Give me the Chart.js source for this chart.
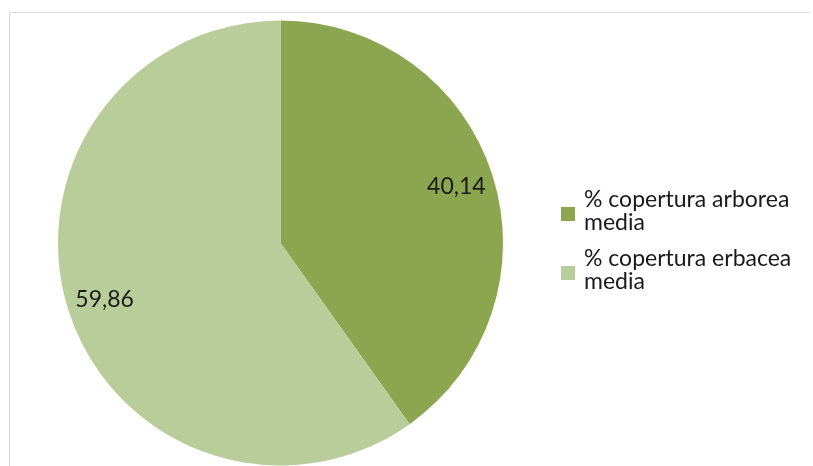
<!DOCTYPE html>
<html>
<head>
<meta charset="utf-8">
<script src="https://cdn.jsdelivr.net/npm/chart.js@4"></script>
<style>
  html, body { margin: 0; padding: 0; background: #fff; }
  #wrap { width: 813px; height: 466px; position: relative; }
</style>
</head>
<body>
<div id="wrap"><canvas id="pie" width="813" height="466"></canvas></div>
<script>
const labels = ['% copertura arborea media', '% copertura erbacea media'];
const legendLines = [['% copertura arborea', 'media'], ['% copertura erbacea', 'media']];
const values = [40.14, 59.86];
const colors = ['#8ca650', '#b9cd9a'];

const FONT = 'Lato, "Open Sans", sans-serif';

// thin frame along the top and left of the chart area
const framePlugin = {
  id: 'frame',
  beforeDraw(chart) {
    const ctx = chart.ctx;
    ctx.save();
    ctx.strokeStyle = '#d9d9d9';
    ctx.lineWidth = 1;
    ctx.beginPath();
    ctx.moveTo(9.5, 466);
    ctx.lineTo(9.5, 12.5);
    ctx.lineTo(810, 12.5);
    ctx.stroke();
    ctx.restore();
  }
};

// value labels inside each slice, comma as decimal separator
const sliceLabels = {
  id: 'sliceLabels',
  afterDatasetsDraw(chart) {
    const ctx = chart.ctx;
    const meta = chart.getDatasetMeta(0);
    ctx.save();
    ctx.font = '23px ' + FONT;
    ctx.fillStyle = '#1a1a1a';
    ctx.textAlign = 'center';
    ctx.textBaseline = 'middle';
    meta.data.forEach((arc, i) => {
      const p = arc.getProps(['x', 'y', 'startAngle', 'endAngle', 'outerRadius'], true);
      const mid = (p.startAngle + p.endAngle) / 2;
      const r = p.outerRadius * 0.83;
      const txt = values[i].toFixed(2).replace('.', ',');
      ctx.fillText(txt, p.x + Math.cos(mid) * r, p.y + Math.sin(mid) * r);
    });
    ctx.restore();
  }
};

// legend on the right, two-line entries
const sideLegend = {
  id: 'sideLegend',
  afterDraw(chart) {
    const ctx = chart.ctx;
    ctx.save();
    ctx.font = '23px ' + FONT;
    ctx.textBaseline = 'middle';
    const tops = [200, 259];
    legendLines.forEach((lines, i) => {
      const y0 = tops[i];
      ctx.fillStyle = colors[i];
      ctx.fillRect(561, y0 + 7, 14, 14);
      ctx.fillStyle = '#1a1a1a';
      lines.forEach((ln, j) => ctx.fillText(ln, 584, y0 + j * 23));
    });
    ctx.restore();
  }
};

new Chart(document.getElementById('pie'), {
  type: 'pie',
  data: {
    labels: labels,
    datasets: [{
      data: values,
      backgroundColor: colors,
      borderWidth: 0,
      hoverOffset: 0
    }]
  },
  options: {
    responsive: false,
    animation: false,
    events: [],
    layout: { padding: { left: 58, right: 310, top: 20.5, bottom: 0.5 } },
    plugins: {
      legend: { display: false },
      tooltip: { enabled: false }
    }
  },
  plugins: [framePlugin, sliceLabels, sideLegend]
});
</script>
</body>
</html>
